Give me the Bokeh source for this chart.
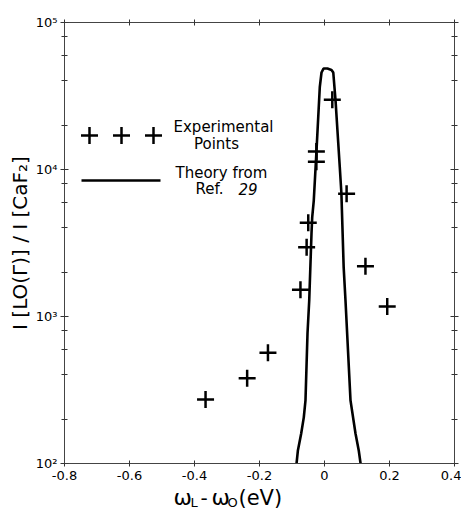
from bokeh.plotting import figure
from bokeh.models import FixedTicker, LogAxis, LinearAxis, Label, CustomJSTickFormatter, BoxAnnotation
from bokeh.embed import file_html
from bokeh.resources import INLINE
import math

# --- data ---
exp_x = [-0.366, -0.238, -0.174, -0.074, -0.055, -0.050, -0.025, -0.025, 0.024, 0.068, 0.126, 0.193]
exp_y = [272, 380, 566, 1520, 2960, 4340, 11300, 13240, 29800, 6840, 2200, 1170]

theory_x = [-0.086, -0.082, -0.0717, -0.0637, -0.0585, -0.0523, -0.047, -0.040, -0.0378, -0.033,
            -0.0246, -0.0145, -0.0092, -0.003, 0.009, 0.0215, 0.027, 0.034, 0.047, 0.052,
            0.059, 0.0646, 0.080, 0.0954, 0.1055, 0.111]
theory_y = [100, 122, 160, 206, 269, 766, 1285, 3670, 4740, 6150,
            13460, 36300, 45700, 48600, 48600, 47600, 45700, 29400, 10400, 6870,
            2160, 1285, 269, 160, 122, 100]

x_ticks = [-0.8, -0.6, -0.4, -0.2, 0, 0.2, 0.4]
x_tick_labels = {-0.8: "-0.8", -0.6: "-0.6", -0.4: "-0.4", -0.2: "-0.2", 0: "0", 0.2: "0.2", 0.4: "0.4"}
y_ticks = [100, 1000, 10000, 100000]
y_tick_labels = {100: "10²", 1000: "10³", 10000: "10⁴", 100000: "10⁵"}
y_minor = [m * d for d in (100, 1000, 10000) for m in (2, 4, 6, 8)]

X0, X1 = -0.8, 0.4
Y0, Y1 = 100, 100000
FONT = "DejaVu Sans"

# plot box in pixels: x 64..454, y 22..463 (10^5 .. 10^2); the frame fills the page
FL, FW, FT, FH = 64, 390, 22, 441
W, H = 461, 510
def fx(px):
    return X0 + (px - FL) / FW * (X1 - X0)
def fy(py):
    return 10 ** (math.log10(Y1) - (py - FT) / FH * (math.log10(Y1) - math.log10(Y0)))

p = figure(width=W, height=H, x_range=(fx(0), fx(W)), y_range=(fy(H), fy(0)), y_axis_type="log",
           output_backend="svg", toolbar_location=None,
           min_border_left=0, min_border_right=0, min_border_top=0, min_border_bottom=0)
p.outline_line_color = None
p.xgrid.visible = False
p.ygrid.visible = False
p.background_fill_color = "white"
p.border_fill_color = "white"

# plot box outline
p.add_layout(BoxAnnotation(left=X0, right=X1, bottom=Y0, top=Y1, fill_alpha=0,
                           line_color="#444444", line_width=1))

def style_axis(ax):
    ax.axis_line_color = "#444444"
    ax.axis_line_width = 1
    ax.major_tick_line_color = "#333333"
    ax.minor_tick_line_color = "#333333"
    ax.major_tick_in = 4
    ax.major_tick_out = 4
    ax.minor_tick_in = 3
    ax.minor_tick_out = 3
    ax.major_label_text_font = FONT
    ax.major_label_text_font_size = "13px"
    ax.major_label_text_color = "black"
    ax.axis_label_text_font = FONT
    ax.axis_label_text_font_style = "normal"
    ax.axis_label_text_color = "black"

xa = p.xaxis[0]
xa.ticker = FixedTicker(ticks=x_ticks, minor_ticks=[])
xa.major_label_overrides = x_tick_labels
xa.major_label_standoff = 4
xa.fixed_location = Y0
xa.bounds = (X0, X1)
style_axis(xa)
xa.major_tick_in = 3
xa.major_tick_out = 3

ya = p.yaxis[0]
ya.ticker = FixedTicker(ticks=y_ticks, minor_ticks=y_minor)
ya.major_label_overrides = y_tick_labels
ya.major_label_standoff = 3
ya.fixed_location = X0
ya.bounds = (Y0, Y1)
ya.axis_label = "I [LO(Γ)] / I [CaF₂]"
ya.axis_label_text_font_size = "20px"
ya.axis_label_standoff = 1
style_axis(ya)

blank = CustomJSTickFormatter(code="return '';")

top = LinearAxis(ticker=FixedTicker(ticks=x_ticks, minor_ticks=[]), formatter=blank,
                 fixed_location=Y1, bounds=(X0, X1))
style_axis(top)
top.major_tick_in = 3
top.major_tick_out = 3
top.major_label_standoff = 0
p.add_layout(top, "above")

right = LogAxis(ticker=FixedTicker(ticks=y_ticks, minor_ticks=y_minor), formatter=blank,
                fixed_location=X1, bounds=(Y0, Y1))
style_axis(right)
right.major_label_standoff = 0
p.add_layout(right, "right")

# data
p.line(theory_x, theory_y, line_color="black", line_width=2.6)
p.scatter(exp_x, exp_y, marker="cross", size=17, line_color="black", line_width=2.5)

# legend
p.scatter([fx(89), fx(121), fx(153)], [fy(135)] * 3, marker="cross", size=17,
          line_color="black", line_width=2.5)
p.line([fx(81), fx(160)], [fy(180)] * 2, line_color="black", line_width=2.6)

def add_text(txt, px, py, size="15px", align="left", baseline="middle", style="normal"):
    p.add_layout(Label(x=fx(px), y=fy(py), text=txt, text_font=FONT, text_font_size=size,
                       text_align=align, text_baseline=baseline, text_font_style=style,
                       text_color="black"))

add_text("Experimental", 173, 126)
add_text("Points", 216, 143, align="center")
add_text("Theory from", 175, 172)
add_text("Ref.", 195, 188)
add_text("29", 238, 188, style="italic")

# x axis title with subscripts
add_text("ω", 173, 497, size="22px")
add_text("L", 190, 502, size="13px")
add_text("-", 200, 497, size="20px")
add_text("ω", 211, 497, size="22px")
add_text("O", 227, 502, size="13px")
add_text("(eV)", 238, 497, size="21px")

open("out.html", "w").write(file_html(p, INLINE))
